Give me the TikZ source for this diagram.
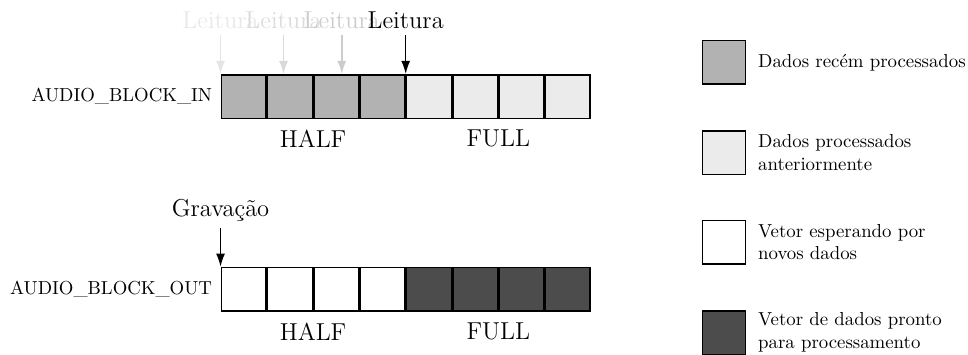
\documentclass[tikz,border=0pt]{standalone}
\usepackage{tikz}
\usetikzlibrary{positioning,calc,arrows.meta}

\begin{document}
\begin{tikzpicture}[
        cell/.style={draw, thick, minimum width=0.837cm, minimum height=0.813cm, inner sep=0pt},
        newdata/.style={cell, fill=black!30},
        olddata/.style={cell, fill=black!8},
        waiting/.style={cell, fill=white},
        ready/.style={cell, fill=black!70},
        legbox/.style={minimum width=0.8cm, minimum height=0.813cm},
        bigtxt/.style={font=\fontsize{13}{15.6}\selectfont},
        pointer/.style={-{Latex[length=7pt,width=4.8pt]}, thick}
    ]
        \useasboundingbox (0,0) rectangle (18.09,6.617);

        % AUDIO_BLOCK_IN
        \node[newdata] (in1) at (4.554,4.813) {};
        \node[newdata, right=0pt of in1] (in2) {};
        \node[newdata, right=0pt of in2] (in3) {};
        \node[newdata, right=0pt of in3] (in4) {};
        \node[olddata, right=0pt of in4] (in5) {};
        \node[olddata, right=0pt of in5] (in6) {};
        \node[olddata, right=0pt of in6] (in7) {};
        \node[olddata, right=0pt of in7] (in8) {};
        \node[left=1pt of in1] (inname) {AUDIO\_BLOCK\_IN};
        \node[bigtxt, below=2.3pt of in2.south east] (inhalf) {HALF};
        \node[bigtxt, below=2.3pt of in6.south east] (infull) {FULL};

        % leituras anteriores em cinza
        \coordinate (rd1) at (in1.north west);
        \coordinate (rd2) at ($(in1.north west)!0.34!(in4.north east)$);
        \coordinate (rd3) at ($(in1.north west)!0.655!(in4.north east)$);
        \coordinate (rd4) at (in4.north east);
        \node[bigtxt, black!9, above=0.73cm of rd1] (read1) {Leitura};
        \node[bigtxt, black!14, above=0.73cm of rd2] (read2) {Leitura};
        \node[bigtxt, black!20, above=0.73cm of rd3] (read3) {Leitura};
        \node[bigtxt, above=0.73cm of rd4] (read4) {Leitura};
        \draw[pointer, black!10] (read1) -- (rd1);
        \draw[pointer, black!15] (read2) -- (rd2);
        \draw[pointer, black!20] (read3) -- (rd3);
        \draw[pointer] (read4) -- (rd4);

        % AUDIO_BLOCK_OUT
        \node[waiting] (out1) at (4.554,1.211) {};
        \node[waiting, right=0pt of out1] (out2) {};
        \node[waiting, right=0pt of out2] (out3) {};
        \node[waiting, right=0pt of out3] (out4) {};
        \node[ready, right=0pt of out4] (out5) {};
        \node[ready, right=0pt of out5] (out6) {};
        \node[ready, right=0pt of out6] (out7) {};
        \node[ready, right=0pt of out7] (out8) {};
        \node[left=1pt of out1] (outname) {AUDIO\_BLOCK\_OUT};
        \node[bigtxt, below=2.3pt of out2.south east] (outhalf) {HALF};
        \node[bigtxt, below=2.3pt of out6.south east] (outfull) {FULL};

        \coordinate (wr) at (out1.north west);
        \node[bigtxt, above=0.73cm of wr] (write) {Gravação};
        \draw[pointer] (write) -- (wr);

        % legenda
        \node[newdata, legbox] (leg1) at (13.53,5.449) {};
        \node[olddata, legbox] (leg2) at (13.53,3.766) {};
        \node[waiting, legbox] (leg3) at (13.53,2.093) {};
        \node[ready, legbox] (leg4) at (13.53,0.402) {};
        \node[right=0.1cm of leg1, align=left] (legtxt1) {Dados recém processados};
        \node[right=0.1cm of leg2, align=left] (legtxt2) {Dados processados\\anteriormente};
        \node[right=0.1cm of leg3, align=left] (legtxt3) {Vetor esperando por\\novos dados};
        \node[right=0.1cm of leg4, align=left] (legtxt4) {Vetor de dados pronto\\para processamento};
    \end{tikzpicture}
\end{document}
